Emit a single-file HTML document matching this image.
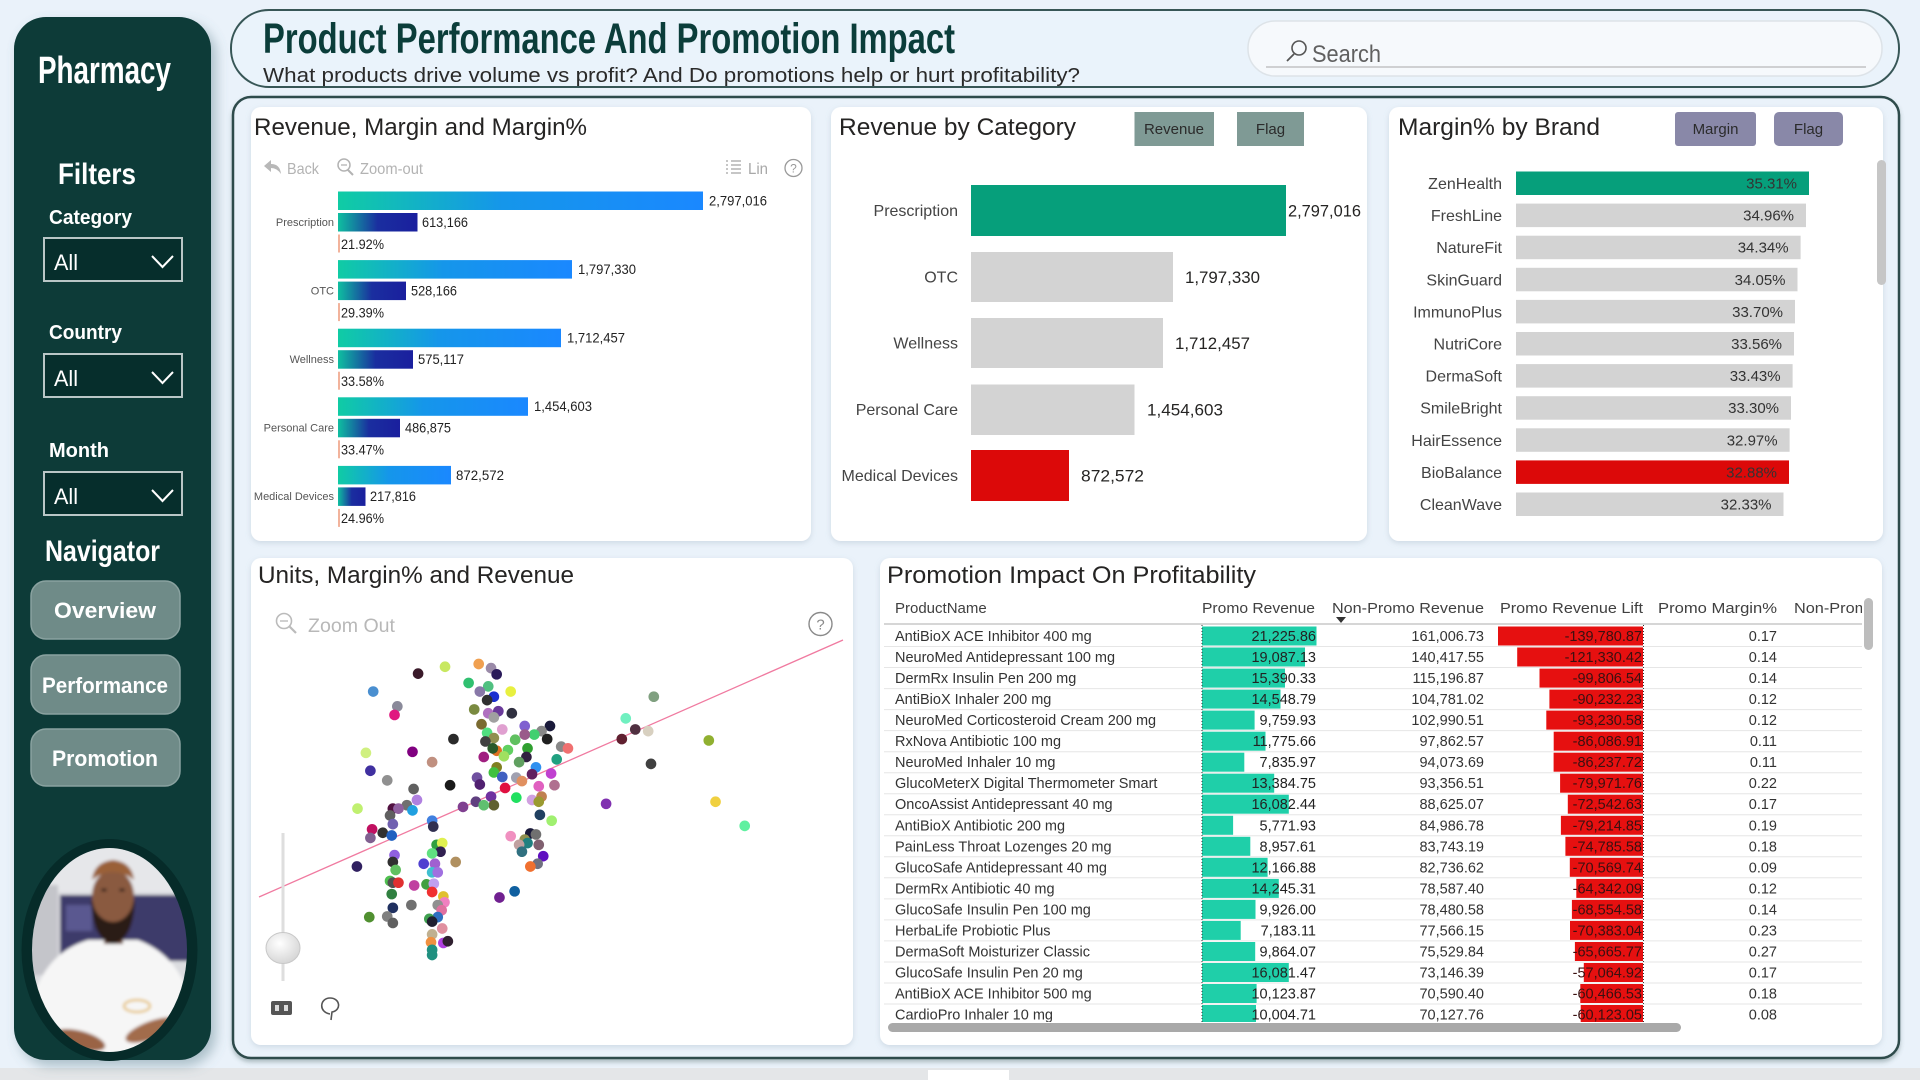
<!DOCTYPE html>
<html><head><meta charset="utf-8">
<style>
html,body{margin:0;padding:0;width:1920px;height:1080px;overflow:hidden;background:#eaf2fa;}
svg{display:block}
text{font-family:"Liberation Sans",sans-serif;}
.nar{font-family:"Liberation Sans Narrow","Liberation Sans",sans-serif;}
</style></head>
<body>
<svg width="1920" height="1080" viewBox="0 0 1920 1080" xmlns="http://www.w3.org/2000/svg">
<defs>
  <filter id="sh" x="-10%" y="-10%" width="120%" height="120%">
    <feDropShadow dx="0" dy="2" stdDeviation="3" flood-color="#8aa0b0" flood-opacity="0.3"/>
  </filter>
  <filter id="sbsh" x="-20%" y="-10%" width="140%" height="120%">
    <feDropShadow dx="5" dy="6" stdDeviation="6" flood-color="#5a7f8a" flood-opacity="0.45"/>
  </filter>
  <filter id="csh" x="-5%" y="-5%" width="110%" height="110%">
    <feDropShadow dx="0" dy="3" stdDeviation="2" flood-color="#3a5a5a" flood-opacity="0.35"/>
  </filter>
  <filter id="blur1"><feGaussianBlur stdDeviation="1.6"/></filter>
  <linearGradient id="gRev" x1="0" y1="0" x2="1" y2="0">
    <stop offset="0" stop-color="#10cca4"/>
    <stop offset="0.45" stop-color="#1596ea"/>
    <stop offset="1" stop-color="#1a88ff"/>
  </linearGradient>
  <linearGradient id="gMar" x1="0" y1="0" x2="1" y2="0">
    <stop offset="0" stop-color="#0fbfa0"/>
    <stop offset="0.5" stop-color="#1a2e9f"/>
    <stop offset="1" stop-color="#1a1f9e"/>
  </linearGradient>
  <radialGradient id="gKnob" cx="0.4" cy="0.35" r="0.7">
    <stop offset="0" stop-color="#ffffff"/>
    <stop offset="1" stop-color="#d4d4d4"/>
  </radialGradient>
  <clipPath id="photoClip"><ellipse cx="109.5" cy="950" rx="77.5" ry="102"/></clipPath>
  <clipPath id="tblClip"><rect x="884" y="595" width="978" height="427"/></clipPath>
</defs>

<!-- page background -->
<rect x="0" y="0" width="1920" height="1080" fill="#eaf2fa"/>
<rect x="0" y="1068" width="1920" height="12" fill="#e4e6e8"/>
<rect x="928" y="1070" width="81" height="10" fill="#ffffff"/>

<!-- SIDEBAR -->
<rect x="14" y="17" width="197" height="1043" rx="32" fill="#0b3a38" filter="url(#sbsh)"/>
<text class="nar" x="38" y="83" font-size="38" font-weight="bold" fill="#ffffff" textLength="133" lengthAdjust="spacingAndGlyphs">Pharmacy</text>
<text class="nar" x="58" y="184" font-size="30" font-weight="bold" fill="#ffffff" textLength="78" lengthAdjust="spacingAndGlyphs">Filters</text>

<text class="nar" x="49" y="224" font-size="20" font-weight="bold" fill="#ffffff" textLength="83" lengthAdjust="spacingAndGlyphs">Category</text>
<rect x="44" y="238" width="138" height="43" fill="#062e2c" stroke="#b9c6c6" stroke-width="2"/>
<text class="nar" x="54" y="270" font-size="22" fill="#ffffff" textLength="24" lengthAdjust="spacingAndGlyphs">All</text>
<polyline points="152,256 162.5,267 173,256" fill="none" stroke="#ffffff" stroke-width="2"/>

<text class="nar" x="49" y="339" font-size="20" font-weight="bold" fill="#ffffff" textLength="73" lengthAdjust="spacingAndGlyphs">Country</text>
<rect x="44" y="354" width="138" height="43" fill="#062e2c" stroke="#b9c6c6" stroke-width="2"/>
<text class="nar" x="54" y="386" font-size="22" fill="#ffffff" textLength="24" lengthAdjust="spacingAndGlyphs">All</text>
<polyline points="152,372 162.5,383 173,372" fill="none" stroke="#ffffff" stroke-width="2"/>

<text class="nar" x="49" y="457" font-size="20" font-weight="bold" fill="#ffffff" textLength="60" lengthAdjust="spacingAndGlyphs">Month</text>
<rect x="44" y="472" width="138" height="43" fill="#062e2c" stroke="#b9c6c6" stroke-width="2"/>
<text class="nar" x="54" y="504" font-size="22" fill="#ffffff" textLength="24" lengthAdjust="spacingAndGlyphs">All</text>
<polyline points="152,490 162.5,501 173,490" fill="none" stroke="#ffffff" stroke-width="2"/>

<text class="nar" x="45" y="561" font-size="30" font-weight="bold" fill="#ffffff" textLength="115" lengthAdjust="spacingAndGlyphs">Navigator</text>

<rect x="31" y="581" width="149" height="58" rx="15" fill="#6f8b88" stroke="#8aa2a0" stroke-width="1.5"/>
<text class="nar" x="54" y="618" font-size="22" font-weight="bold" fill="#ffffff" textLength="102" lengthAdjust="spacingAndGlyphs">Overview</text>
<rect x="31" y="655" width="149" height="59" rx="15" fill="#6f8b88" stroke="#8aa2a0" stroke-width="1.5"/>
<text class="nar" x="42" y="693" font-size="22" font-weight="bold" fill="#ffffff" textLength="126" lengthAdjust="spacingAndGlyphs">Performance</text>
<rect x="31" y="729" width="149" height="57" rx="15" fill="#6f8b88" stroke="#8aa2a0" stroke-width="1.5"/>
<text class="nar" x="52" y="766" font-size="22" font-weight="bold" fill="#ffffff" textLength="106" lengthAdjust="spacingAndGlyphs">Promotion</text>

<!-- photo -->
<ellipse cx="109.5" cy="950" rx="88" ry="111" fill="#062b29"/>
<g clip-path="url(#photoClip)">
  <g filter="url(#blur1)">
    <rect x="20" y="840" width="180" height="220" fill="#dcdde0"/>
    <rect x="20" y="840" width="180" height="52" fill="#e6e7ea"/>
    <rect x="60" y="895" width="132" height="66" fill="#3d3b6b"/>
    <rect x="66" y="905" width="26" height="26" fill="#5a5990"/>
    <rect x="28" y="885" width="30" height="90" fill="#c4c5ca"/>
    <path d="M25 1060 L34 995 Q48 952 88 940 L138 940 Q178 955 190 1000 L195 1060 Z" fill="#f6f6f6"/>
    <rect x="104" y="928" width="19" height="16" fill="#6a4030"/>
    <path d="M91 898 Q92 940 113 944 Q134 940 135 898 Q128 918 113 918 Q98 918 91 898 Z" fill="#2a1c16"/>
    <ellipse cx="113" cy="896" rx="21" ry="26" fill="#8a5a40"/>
    <path d="M92 905 Q95 935 113 938 Q131 935 134 905 Q128 922 113 922 Q98 922 92 905 Z" fill="#2b1d17"/>
    <path d="M92 880 Q94 862 113 860 Q132 862 134 880 Q124 872 113 872 Q102 872 92 880 Z" fill="#9a6038"/>
    <ellipse cx="104" cy="890" rx="3" ry="1.5" fill="#2a1c16"/>
    <ellipse cx="122" cy="890" rx="3" ry="1.5" fill="#2a1c16"/>
    <ellipse cx="152" cy="1030" rx="28" ry="9" fill="#a26c4c" transform="rotate(-20 152 1030)"/>
    <ellipse cx="80" cy="1040" rx="26" ry="9" fill="#9a6444" transform="rotate(15 80 1040)"/>
    <ellipse cx="137" cy="1006" rx="13" ry="6" fill="none" stroke="#e2b440" stroke-width="2"/>
  </g>
</g>

<!-- HEADER -->
<rect x="231" y="10" width="1668" height="77" rx="38" fill="#eaf3fb" stroke="#375656" stroke-width="2"/>
<text class="nar" x="263" y="53" font-size="43" font-weight="bold" fill="#0b3d3a" textLength="692" lengthAdjust="spacingAndGlyphs">Product Performance And Promotion Impact</text>
<text x="263" y="82" font-size="20" fill="#2a2a2a" textLength="817" lengthAdjust="spacingAndGlyphs">What products drive volume vs profit? And Do promotions help or hurt profitability?</text>
<rect x="1248" y="21" width="634" height="55" rx="27" fill="#f6f9fc" stroke="#dde3e8" stroke-width="1.5"/>
<line x1="1266" y1="67" x2="1866" y2="67" stroke="#a8a8a8" stroke-width="1"/>
<circle cx="1299" cy="48" r="7" fill="none" stroke="#555" stroke-width="1.6"/>
<line x1="1294" y1="54" x2="1287" y2="61" stroke="#555" stroke-width="1.8"/>
<text x="1312" y="62" font-size="24" fill="#606060" textLength="69" lengthAdjust="spacingAndGlyphs">Search</text>

<!-- MAIN CONTAINER -->
<rect x="233" y="97" width="1666" height="961" rx="18" fill="#eaf2fa" stroke="#2f4b4b" stroke-width="2.5" filter="url(#csh)"/>

<!-- PANELS -->
<rect x="251" y="107" width="560" height="434" rx="10" fill="#ffffff" filter="url(#sh)"/>
<rect x="831" y="107" width="536" height="434" rx="10" fill="#ffffff" filter="url(#sh)"/>
<rect x="1389" y="107" width="494" height="434" rx="10" fill="#ffffff" filter="url(#sh)"/>
<rect x="251" y="558" width="602" height="487" rx="10" fill="#ffffff" filter="url(#sh)"/>
<rect x="880" y="558" width="1002" height="487" rx="10" fill="#ffffff" filter="url(#sh)"/>

<!-- PANEL 1 -->
<text x="254" y="135" font-size="24" fill="#252423" textLength="333" lengthAdjust="spacingAndGlyphs">Revenue, Margin and Margin%</text>
<path d="M264 166 L271 160 L271 164 Q280 164 281 174 Q277 168 271 168 L271 172 Z" fill="#b8b8b8"/>
<text x="287" y="174" font-size="16" fill="#b3b3b3" textLength="32" lengthAdjust="spacingAndGlyphs">Back</text>
<circle cx="344" cy="165" r="6" fill="none" stroke="#b3b3b3" stroke-width="1.5"/>
<line x1="348" y1="170" x2="353" y2="175" stroke="#b3b3b3" stroke-width="2"/>
<line x1="341" y1="165" x2="347" y2="165" stroke="#b3b3b3" stroke-width="1.3"/>
<text x="360" y="174" font-size="16" fill="#b3b3b3" textLength="63" lengthAdjust="spacingAndGlyphs">Zoom-out</text>
<g stroke="#a8a8a8" stroke-width="1.3">
  <line x1="731" y1="161" x2="741" y2="161"/><line x1="731" y1="165" x2="741" y2="165"/>
  <line x1="731" y1="169" x2="741" y2="169"/><line x1="731" y1="173" x2="741" y2="173"/>
  <line x1="726" y1="161" x2="728" y2="161"/><line x1="726" y1="165" x2="728" y2="165"/>
  <line x1="726" y1="169" x2="728" y2="169"/><line x1="726" y1="173" x2="728" y2="173"/>
</g>
<text x="748" y="174" font-size="16" fill="#a8a8a8" textLength="20" lengthAdjust="spacingAndGlyphs">Lin</text>
<circle cx="793.5" cy="168" r="8.5" fill="none" stroke="#9a9a9a" stroke-width="1.3"/>
<text x="793.5" y="172.5" font-size="12" fill="#9a9a9a" text-anchor="middle">?</text>

<g font-size="13.5" fill="#222">
  <rect x="338" y="191.5" width="365" height="18.5" fill="url(#gRev)"/>
  <text x="709" y="205.5" textLength="58" lengthAdjust="spacingAndGlyphs">2,797,016</text>
  <rect x="338" y="213" width="79.5" height="18.5" fill="url(#gMar)"/>
  <text x="422" y="227" textLength="46" lengthAdjust="spacingAndGlyphs">613,166</text>
  <rect x="338" y="234.5" width="2" height="18" fill="#f2b39c"/>
  <text x="341" y="249" textLength="43" lengthAdjust="spacingAndGlyphs">21.92%</text>

  <rect x="338" y="260.1" width="234" height="18.5" fill="url(#gRev)"/>
  <text x="578" y="274" textLength="58" lengthAdjust="spacingAndGlyphs">1,797,330</text>
  <rect x="338" y="281.6" width="68" height="18.5" fill="url(#gMar)"/>
  <text x="411" y="295.5" textLength="46" lengthAdjust="spacingAndGlyphs">528,166</text>
  <rect x="338" y="303.1" width="2" height="18" fill="#f2b39c"/>
  <text x="341" y="317.5" textLength="43" lengthAdjust="spacingAndGlyphs">29.39%</text>

  <rect x="338" y="328.7" width="223" height="18.5" fill="url(#gRev)"/>
  <text x="567" y="342.5" textLength="58" lengthAdjust="spacingAndGlyphs">1,712,457</text>
  <rect x="338" y="350.2" width="75" height="18.5" fill="url(#gMar)"/>
  <text x="418" y="364" textLength="46" lengthAdjust="spacingAndGlyphs">575,117</text>
  <rect x="338" y="371.7" width="2" height="18" fill="#f2b39c"/>
  <text x="341" y="386" textLength="43" lengthAdjust="spacingAndGlyphs">33.58%</text>

  <rect x="338" y="397.3" width="190" height="18.5" fill="url(#gRev)"/>
  <text x="534" y="411" textLength="58" lengthAdjust="spacingAndGlyphs">1,454,603</text>
  <rect x="338" y="418.8" width="62" height="18.5" fill="url(#gMar)"/>
  <text x="405" y="432.5" textLength="46" lengthAdjust="spacingAndGlyphs">486,875</text>
  <rect x="338" y="440.3" width="2" height="18" fill="#f2b39c"/>
  <text x="341" y="454.5" textLength="43" lengthAdjust="spacingAndGlyphs">33.47%</text>

  <rect x="338" y="465.9" width="113" height="18.5" fill="url(#gRev)"/>
  <text x="456" y="480" textLength="48" lengthAdjust="spacingAndGlyphs">872,572</text>
  <rect x="338" y="487.4" width="27.5" height="18.5" fill="url(#gMar)"/>
  <text x="370" y="501" textLength="46" lengthAdjust="spacingAndGlyphs">217,816</text>
  <rect x="338" y="508.9" width="2" height="18" fill="#f2b39c"/>
  <text x="341" y="523" textLength="43" lengthAdjust="spacingAndGlyphs">24.96%</text>
</g>
<g font-size="11" fill="#555" text-anchor="end">
  <text x="334" y="226">Prescription</text>
  <text x="334" y="294.5">OTC</text>
  <text x="334" y="363">Wellness</text>
  <text x="334" y="431.5">Personal Care</text>
  <text x="334" y="500">Medical Devices</text>
</g>

<!-- PANEL 2 -->
<text x="839" y="135" font-size="24" fill="#252423" textLength="237" lengthAdjust="spacingAndGlyphs">Revenue by Category</text>
<rect x="1134.5" y="112" width="79.5" height="34" fill="#7f9a95"/>
<text x="1174" y="134" font-size="15" fill="#2b2b2b" text-anchor="middle">Revenue</text>
<rect x="1237" y="112" width="67" height="34" fill="#7f9a95"/>
<text x="1270.5" y="134" font-size="15" fill="#2b2b2b" text-anchor="middle">Flag</text>

<rect x="971" y="185" width="315" height="51" fill="#069f7b"/>
<rect x="971" y="252" width="202" height="50" fill="#d3d3d3"/>
<rect x="971" y="318" width="192" height="50" fill="#d3d3d3"/>
<rect x="971" y="384.5" width="163.5" height="50.5" fill="#d3d3d3"/>
<rect x="971" y="450" width="98" height="51" fill="#dc0909"/>
<g font-size="17" fill="#252423">
  <text x="1288" y="216.5" textLength="73" lengthAdjust="spacingAndGlyphs">2,797,016</text>
  <text x="1185" y="283" textLength="75" lengthAdjust="spacingAndGlyphs">1,797,330</text>
  <text x="1175" y="349" textLength="75" lengthAdjust="spacingAndGlyphs">1,712,457</text>
  <text x="1147" y="415.5" textLength="76" lengthAdjust="spacingAndGlyphs">1,454,603</text>
  <text x="1081" y="481.5" textLength="63" lengthAdjust="spacingAndGlyphs">872,572</text>
</g>
<g font-size="16" fill="#444" text-anchor="end">
  <text x="958" y="216">Prescription</text>
  <text x="958" y="282.5">OTC</text>
  <text x="958" y="348.5">Wellness</text>
  <text x="958" y="415">Personal Care</text>
  <text x="958" y="481">Medical Devices</text>
</g>

<!-- PANEL 3 -->
<text x="1398" y="135" font-size="24" fill="#252423" textLength="202" lengthAdjust="spacingAndGlyphs">Margin% by Brand</text>
<rect x="1675" y="112" width="81" height="34" rx="3" fill="#8988a8"/>
<text x="1715.5" y="134" font-size="15" fill="#2b2b2b" text-anchor="middle">Margin</text>
<rect x="1774" y="112" width="69" height="34" rx="5" fill="#8988a8"/>
<text x="1808.5" y="134" font-size="15" fill="#2b2b2b" text-anchor="middle">Flag</text>

<g>
  <rect x="1516" y="171.5" width="293" height="23.5" fill="#069f7b"/>
  <rect x="1516" y="203.6" width="290" height="23.5" fill="#d3d3d3"/>
  <rect x="1516" y="235.7" width="284.6" height="23.5" fill="#d3d3d3"/>
  <rect x="1516" y="267.8" width="281.5" height="23.5" fill="#d3d3d3"/>
  <rect x="1516" y="299.9" width="279" height="23.5" fill="#d3d3d3"/>
  <rect x="1516" y="332" width="278" height="23.5" fill="#d3d3d3"/>
  <rect x="1516" y="364.1" width="276.6" height="23.5" fill="#d3d3d3"/>
  <rect x="1516" y="396.2" width="275" height="23.5" fill="#d3d3d3"/>
  <rect x="1516" y="428.3" width="273.6" height="23.5" fill="#d3d3d3"/>
  <rect x="1516" y="460.4" width="273" height="23.5" fill="#dc0909"/>
  <rect x="1516" y="492.5" width="267.5" height="23.5" fill="#d3d3d3"/>
</g>
<g font-size="15" fill="#333" text-anchor="end">
  <text x="1797" y="188.5">35.31%</text>
  <text x="1794" y="220.6">34.96%</text>
  <text x="1788.6" y="252.7">34.34%</text>
  <text x="1785.5" y="284.8">34.05%</text>
  <text x="1783" y="316.9">33.70%</text>
  <text x="1782" y="349">33.56%</text>
  <text x="1780.6" y="381.1">33.43%</text>
  <text x="1779" y="413.2">33.30%</text>
  <text x="1777.6" y="445.3">32.97%</text>
  <text x="1777" y="477.4">32.88%</text>
  <text x="1771.5" y="509.5">32.33%</text>
</g>
<g font-size="16" fill="#444" text-anchor="end">
  <text x="1502" y="189">ZenHealth</text>
  <text x="1502" y="221.1">FreshLine</text>
  <text x="1502" y="253.2">NatureFit</text>
  <text x="1502" y="285.3">SkinGuard</text>
  <text x="1502" y="317.4">ImmunoPlus</text>
  <text x="1502" y="349.5">NutriCore</text>
  <text x="1502" y="381.6">DermaSoft</text>
  <text x="1502" y="413.7">SmileBright</text>
  <text x="1502" y="445.8">HairEssence</text>
  <text x="1502" y="477.9">BioBalance</text>
  <text x="1502" y="510">CleanWave</text>
</g>
<rect x="1877" y="160" width="9" height="125" rx="4.5" fill="#c6c6c6"/>

<!-- PANEL 4 -->
<text x="258" y="583" font-size="24" fill="#252423" textLength="316" lengthAdjust="spacingAndGlyphs">Units, Margin% and Revenue</text>
<circle cx="284" cy="621" r="7.5" fill="none" stroke="#bbbbbb" stroke-width="1.6"/>
<line x1="289.5" y1="626.5" x2="296" y2="633" stroke="#bbbbbb" stroke-width="2.2"/>
<line x1="280" y1="621" x2="288" y2="621" stroke="#bbbbbb" stroke-width="1.4"/>
<text x="308" y="632" font-size="19" fill="#b8b8b8" textLength="87" lengthAdjust="spacingAndGlyphs">Zoom Out</text>
<circle cx="820.5" cy="624" r="11.5" fill="none" stroke="#8a8a8a" stroke-width="1.4"/>
<text x="820.5" y="629.5" font-size="15" fill="#8a8a8a" text-anchor="middle">?</text>

<line x1="259" y1="897" x2="843" y2="640" stroke="#f07aa0" stroke-width="1.3"/>

<line x1="283" y1="833" x2="283" y2="981" stroke="#dedede" stroke-width="3"/>
<ellipse cx="283" cy="948" rx="17" ry="15.5" fill="url(#gKnob)" stroke="#c8c8c8" stroke-width="1"/>

<rect x="271" y="1001" width="21" height="14" rx="2" fill="#555"/>
<rect x="275" y="1005" width="4" height="6" fill="#ddd"/>
<rect x="284" y="1005" width="4" height="6" fill="#ddd"/>
<path d="M330 1014 C318 1012 320 998 330 998 C340 998 342 1010 332 1012 L331 1020" fill="none" stroke="#555" stroke-width="1.6"/>

<g transform="translate(0,540) scale(0.5612,0.3444)">
<ellipse cx="665" cy="440" rx="9.5" ry="15.5" fill="#4a8fd0"/>
<ellipse cx="745" cy="388" rx="9.5" ry="15.5" fill="#3a1a2a"/>
<ellipse cx="793" cy="368" rx="9.5" ry="15.5" fill="#c8e860"/>
<ellipse cx="853" cy="360" rx="9.5" ry="15.5" fill="#f0a050"/>
<ellipse cx="875" cy="372" rx="9.5" ry="15.5" fill="#9a8aa8"/>
<ellipse cx="885" cy="390" rx="9.5" ry="15.5" fill="#2a1a5a"/>
<ellipse cx="835" cy="415" rx="9.5" ry="15.5" fill="#30c070"/>
<ellipse cx="870" cy="425" rx="9.5" ry="15.5" fill="#50c080"/>
<ellipse cx="910" cy="440" rx="9.5" ry="15.5" fill="#e8f040"/>
<ellipse cx="855" cy="440" rx="9.5" ry="15.5" fill="#8878a8"/>
<ellipse cx="880" cy="455" rx="9.5" ry="15.5" fill="#1a30d0"/>
<ellipse cx="868" cy="465" rx="9.5" ry="15.5" fill="#303030"/>
<ellipse cx="708" cy="483" rx="9.5" ry="15.5" fill="#8a8a9a"/>
<ellipse cx="703" cy="508" rx="9.5" ry="15.5" fill="#e01880"/>
<ellipse cx="845" cy="492" rx="9.5" ry="15.5" fill="#7a8a40"/>
<ellipse cx="870" cy="503" rx="9.5" ry="15.5" fill="#b070c0"/>
<ellipse cx="888" cy="497" rx="9.5" ry="15.5" fill="#6a3a9a"/>
<ellipse cx="912" cy="503" rx="9.5" ry="15.5" fill="#303040"/>
<ellipse cx="880" cy="515" rx="9.5" ry="15.5" fill="#a0a0a0"/>
<ellipse cx="858" cy="535" rx="9.5" ry="15.5" fill="#7a6a30"/>
<ellipse cx="935" cy="540" rx="9.5" ry="15.5" fill="#8060d0"/>
<ellipse cx="895" cy="550" rx="9.5" ry="15.5" fill="#e0a0d0"/>
<ellipse cx="980" cy="540" rx="9.5" ry="15.5" fill="#1a1a3a"/>
<ellipse cx="965" cy="555" rx="9.5" ry="15.5" fill="#888888"/>
<ellipse cx="952" cy="565" rx="9.5" ry="15.5" fill="#40d070"/>
<ellipse cx="935" cy="565" rx="9.5" ry="15.5" fill="#9a5a8a"/>
<ellipse cx="975" cy="578" rx="9.5" ry="15.5" fill="#202020"/>
<ellipse cx="868" cy="560" rx="9.5" ry="15.5" fill="#50e080"/>
<ellipse cx="880" cy="575" rx="9.5" ry="15.5" fill="#909050"/>
<ellipse cx="865" cy="585" rx="9.5" ry="15.5" fill="#404040"/>
<ellipse cx="808" cy="578" rx="9.5" ry="15.5" fill="#2a2a2a"/>
<ellipse cx="918" cy="580" rx="9.5" ry="15.5" fill="#60c060"/>
<ellipse cx="940" cy="605" rx="9.5" ry="15.5" fill="#30a030"/>
<ellipse cx="1000" cy="600" rx="9.5" ry="15.5" fill="#888888"/>
<ellipse cx="1012" cy="605" rx="9.5" ry="15.5" fill="#f07070"/>
<ellipse cx="885" cy="612" rx="9.5" ry="15.5" fill="#e07020"/>
<ellipse cx="905" cy="610" rx="9.5" ry="15.5" fill="#60d060"/>
<ellipse cx="878" cy="605" rx="9.5" ry="15.5" fill="#2a5a2a"/>
<ellipse cx="862" cy="630" rx="9.5" ry="15.5" fill="#a02080"/>
<ellipse cx="898" cy="628" rx="9.5" ry="15.5" fill="#a0e060"/>
<ellipse cx="938" cy="630" rx="9.5" ry="15.5" fill="#302040"/>
<ellipse cx="992" cy="637" rx="9.5" ry="15.5" fill="#20a080"/>
<ellipse cx="735" cy="615" rx="9.5" ry="15.5" fill="#800080"/>
<ellipse cx="652" cy="618" rx="9.5" ry="15.5" fill="#d0f080"/>
<ellipse cx="770" cy="645" rx="9.5" ry="15.5" fill="#c09080"/>
<ellipse cx="925" cy="645" rx="9.5" ry="15.5" fill="#60a060"/>
<ellipse cx="885" cy="660" rx="9.5" ry="15.5" fill="#808020"/>
<ellipse cx="955" cy="660" rx="9.5" ry="15.5" fill="#3090f0"/>
<ellipse cx="660" cy="670" rx="9.5" ry="15.5" fill="#4030a0"/>
<ellipse cx="880" cy="675" rx="9.5" ry="15.5" fill="#40c040"/>
<ellipse cx="948" cy="680" rx="9.5" ry="15.5" fill="#602060"/>
<ellipse cx="982" cy="678" rx="9.5" ry="15.5" fill="#c040d0"/>
<ellipse cx="895" cy="688" rx="9.5" ry="15.5" fill="#4060c0"/>
<ellipse cx="920" cy="690" rx="9.5" ry="15.5" fill="#a0a0b0"/>
<ellipse cx="930" cy="700" rx="9.5" ry="15.5" fill="#e09060"/>
<ellipse cx="850" cy="690" rx="9.5" ry="15.5" fill="#7050a0"/>
<ellipse cx="690" cy="698" rx="9.5" ry="15.5" fill="#909090"/>
<ellipse cx="855" cy="710" rx="9.5" ry="15.5" fill="#502070"/>
<ellipse cx="960" cy="715" rx="9.5" ry="15.5" fill="#e060c0"/>
<ellipse cx="988" cy="712" rx="9.5" ry="15.5" fill="#b07090"/>
<ellipse cx="802" cy="712" rx="9.5" ry="15.5" fill="#1a1a1a"/>
<ellipse cx="900" cy="720" rx="9.5" ry="15.5" fill="#e01040"/>
<ellipse cx="737" cy="723" rx="9.5" ry="15.5" fill="#606060"/>
<ellipse cx="920" cy="748" rx="9.5" ry="15.5" fill="#20e060"/>
<ellipse cx="965" cy="745" rx="9.5" ry="15.5" fill="#c08050"/>
<ellipse cx="875" cy="745" rx="9.5" ry="15.5" fill="#7030a0"/>
<ellipse cx="848" cy="760" rx="9.5" ry="15.5" fill="#604080"/>
<ellipse cx="948" cy="755" rx="9.5" ry="15.5" fill="#d0a0e0"/>
<ellipse cx="960" cy="760" rx="9.5" ry="15.5" fill="#9a9a30"/>
<ellipse cx="880" cy="770" rx="9.5" ry="15.5" fill="#606030"/>
<ellipse cx="825" cy="775" rx="9.5" ry="15.5" fill="#804090"/>
<ellipse cx="862" cy="770" rx="9.5" ry="15.5" fill="#60c070"/>
<ellipse cx="743" cy="755" rx="9.5" ry="15.5" fill="#b080e0"/>
<ellipse cx="725" cy="770" rx="9.5" ry="15.5" fill="#707070"/>
<ellipse cx="700" cy="780" rx="9.5" ry="15.5" fill="#501040"/>
<ellipse cx="710" cy="780" rx="9.5" ry="15.5" fill="#9060a0"/>
<ellipse cx="637" cy="780" rx="9.5" ry="15.5" fill="#c0f070"/>
<ellipse cx="735" cy="785" rx="9.5" ry="15.5" fill="#20a0e0"/>
<ellipse cx="695" cy="800" rx="9.5" ry="15.5" fill="#606060"/>
<ellipse cx="700" cy="825" rx="9.5" ry="15.5" fill="#7060b0"/>
<ellipse cx="770" cy="815" rx="9.5" ry="15.5" fill="#4080e0"/>
<ellipse cx="772" cy="832" rx="9.5" ry="15.5" fill="#303050"/>
<ellipse cx="962" cy="798" rx="9.5" ry="15.5" fill="#204060"/>
<ellipse cx="983" cy="815" rx="9.5" ry="15.5" fill="#a0f070"/>
<ellipse cx="663" cy="840" rx="9.5" ry="15.5" fill="#c01060"/>
<ellipse cx="682" cy="850" rx="9.5" ry="15.5" fill="#303030"/>
<ellipse cx="698" cy="858" rx="9.5" ry="15.5" fill="#2060c0"/>
<ellipse cx="660" cy="865" rx="9.5" ry="15.5" fill="#806090"/>
<ellipse cx="910" cy="860" rx="9.5" ry="15.5" fill="#f090c0"/>
<ellipse cx="945" cy="852" rx="9.5" ry="15.5" fill="#1a1a3a"/>
<ellipse cx="955" cy="855" rx="9.5" ry="15.5" fill="#707070"/>
<ellipse cx="935" cy="870" rx="9.5" ry="15.5" fill="#909050"/>
<ellipse cx="940" cy="880" rx="9.5" ry="15.5" fill="#208080"/>
<ellipse cx="960" cy="885" rx="9.5" ry="15.5" fill="#806070"/>
<ellipse cx="925" cy="885" rx="9.5" ry="15.5" fill="#c0a0a0"/>
<ellipse cx="930" cy="905" rx="9.5" ry="15.5" fill="#307080"/>
<ellipse cx="968" cy="918" rx="9.5" ry="15.5" fill="#6010c0"/>
<ellipse cx="958" cy="940" rx="9.5" ry="15.5" fill="#707080"/>
<ellipse cx="945" cy="948" rx="9.5" ry="15.5" fill="#f07030"/>
<ellipse cx="778" cy="885" rx="9.5" ry="15.5" fill="#30a040"/>
<ellipse cx="788" cy="880" rx="9.5" ry="15.5" fill="#e0f050"/>
<ellipse cx="785" cy="905" rx="9.5" ry="15.5" fill="#302050"/>
<ellipse cx="770" cy="910" rx="9.5" ry="15.5" fill="#60e080"/>
<ellipse cx="703" cy="915" rx="9.5" ry="15.5" fill="#9060e0"/>
<ellipse cx="700" cy="935" rx="9.5" ry="15.5" fill="#303030"/>
<ellipse cx="812" cy="935" rx="9.5" ry="15.5" fill="#b09060"/>
<ellipse cx="755" cy="940" rx="9.5" ry="15.5" fill="#5040d0"/>
<ellipse cx="775" cy="940" rx="9.5" ry="15.5" fill="#a060d0"/>
<ellipse cx="636" cy="948" rx="9.5" ry="15.5" fill="#302060"/>
<ellipse cx="705" cy="958" rx="9.5" ry="15.5" fill="#60c060"/>
<ellipse cx="770" cy="965" rx="9.5" ry="15.5" fill="#40c0d0"/>
<ellipse cx="780" cy="965" rx="9.5" ry="15.5" fill="#a070e0"/>
<ellipse cx="695" cy="990" rx="9.5" ry="15.5" fill="#50c050"/>
<ellipse cx="700" cy="995" rx="9.5" ry="15.5" fill="#505050"/>
<ellipse cx="710" cy="995" rx="9.5" ry="15.5" fill="#e03030"/>
<ellipse cx="738" cy="1003" rx="9.5" ry="15.5" fill="#c040a0"/>
<ellipse cx="760" cy="1000" rx="9.5" ry="15.5" fill="#40a040"/>
<ellipse cx="773" cy="998" rx="9.5" ry="15.5" fill="#c0a0f0"/>
<ellipse cx="770" cy="1022" rx="9.5" ry="15.5" fill="#f03030"/>
<ellipse cx="790" cy="1035" rx="9.5" ry="15.5" fill="#e0c030"/>
<ellipse cx="698" cy="1028" rx="9.5" ry="15.5" fill="#308040"/>
<ellipse cx="792" cy="1052" rx="9.5" ry="15.5" fill="#f080c0"/>
<ellipse cx="890" cy="1038" rx="9.5" ry="15.5" fill="#702090"/>
<ellipse cx="917" cy="1020" rx="9.5" ry="15.5" fill="#1060a0"/>
<ellipse cx="700" cy="1068" rx="9.5" ry="15.5" fill="#203060"/>
<ellipse cx="733" cy="1060" rx="9.5" ry="15.5" fill="#707070"/>
<ellipse cx="780" cy="1060" rx="9.5" ry="15.5" fill="#909090"/>
<ellipse cx="787" cy="1075" rx="9.5" ry="15.5" fill="#e070a0"/>
<ellipse cx="658" cy="1095" rx="9.5" ry="15.5" fill="#509030"/>
<ellipse cx="690" cy="1093" rx="9.5" ry="15.5" fill="#808080"/>
<ellipse cx="700" cy="1112" rx="9.5" ry="15.5" fill="#606060"/>
<ellipse cx="780" cy="1095" rx="9.5" ry="15.5" fill="#3070c0"/>
<ellipse cx="765" cy="1100" rx="9.5" ry="15.5" fill="#40a050"/>
<ellipse cx="770" cy="1108" rx="9.5" ry="15.5" fill="#202030"/>
<ellipse cx="788" cy="1128" rx="9.5" ry="15.5" fill="#e090a0"/>
<ellipse cx="770" cy="1145" rx="9.5" ry="15.5" fill="#c0b090"/>
<ellipse cx="768" cy="1168" rx="9.5" ry="15.5" fill="#f09040"/>
<ellipse cx="790" cy="1170" rx="9.5" ry="15.5" fill="#b040e0"/>
<ellipse cx="798" cy="1165" rx="9.5" ry="15.5" fill="#302030"/>
<ellipse cx="770" cy="1190" rx="9.5" ry="15.5" fill="#209080"/>
<ellipse cx="770" cy="1205" rx="9.5" ry="15.5" fill="#209080"/>
<ellipse cx="1115" cy="518" rx="9.5" ry="15.5" fill="#70f0c0"/>
<ellipse cx="1132" cy="550" rx="9.5" ry="15.5" fill="#503040"/>
<ellipse cx="1155" cy="555" rx="9.5" ry="15.5" fill="#d8d0c0"/>
<ellipse cx="1108" cy="578" rx="9.5" ry="15.5" fill="#602030"/>
<ellipse cx="1165" cy="455" rx="9.5" ry="15.5" fill="#80a080"/>
<ellipse cx="1263" cy="582" rx="9.5" ry="15.5" fill="#90b030"/>
<ellipse cx="1160" cy="650" rx="9.5" ry="15.5" fill="#404040"/>
<ellipse cx="1080" cy="766" rx="9.5" ry="15.5" fill="#8030b0"/>
<ellipse cx="1275" cy="760" rx="9.5" ry="15.5" fill="#f0d040"/>
<ellipse cx="1327" cy="830" rx="9.5" ry="15.5" fill="#60f0a0"/>
</g>

<!-- PANEL 5 -->
<text x="887" y="583" font-size="24" fill="#252423" textLength="369" lengthAdjust="spacingAndGlyphs">Promotion Impact On Profitability</text>
<g clip-path="url(#tblClip)">
  <g font-size="15" fill="#404040">
    <text x="895" y="613">ProductName</text>
    <text x="1202" y="613" textLength="113" lengthAdjust="spacingAndGlyphs">Promo Revenue</text>
    <text x="1332" y="613" textLength="152" lengthAdjust="spacingAndGlyphs">Non-Promo Revenue</text>
    <text x="1500" y="613" textLength="143" lengthAdjust="spacingAndGlyphs">Promo Revenue Lift</text>
    <text x="1658" y="613" textLength="119" lengthAdjust="spacingAndGlyphs">Promo Margin%</text>
    <text x="1794" y="613" textLength="152" lengthAdjust="spacingAndGlyphs">Non-Promo Margin%</text>
  </g>
  <path d="M1336 617 L1346 617 L1341 623 Z" fill="#333"/>
  <line x1="884" y1="624" x2="1862" y2="624" stroke="#d6d6d6" stroke-width="2"/>

  <g stroke="#e6e6e6" stroke-width="1">
    <line x1="884" y1="646.5" x2="1862" y2="646.5"/>
    <line x1="884" y1="667.5" x2="1862" y2="667.5"/>
    <line x1="884" y1="688.6" x2="1862" y2="688.6"/>
    <line x1="884" y1="709.6" x2="1862" y2="709.6"/>
    <line x1="884" y1="730.6" x2="1862" y2="730.6"/>
    <line x1="884" y1="751.7" x2="1862" y2="751.7"/>
    <line x1="884" y1="772.7" x2="1862" y2="772.7"/>
    <line x1="884" y1="793.7" x2="1862" y2="793.7"/>
    <line x1="884" y1="814.7" x2="1862" y2="814.7"/>
    <line x1="884" y1="835.8" x2="1862" y2="835.8"/>
    <line x1="884" y1="856.8" x2="1862" y2="856.8"/>
    <line x1="884" y1="877.8" x2="1862" y2="877.8"/>
    <line x1="884" y1="898.9" x2="1862" y2="898.9"/>
    <line x1="884" y1="919.9" x2="1862" y2="919.9"/>
    <line x1="884" y1="940.9" x2="1862" y2="940.9"/>
    <line x1="884" y1="962" x2="1862" y2="962"/>
    <line x1="884" y1="983" x2="1862" y2="983"/>
    <line x1="884" y1="1004" x2="1862" y2="1004"/>
  </g>

  <g fill="#1fcfa9">
    <rect x="1202" y="626.5" width="114.5" height="19"/>
    <rect x="1202" y="647.5" width="103" height="19"/>
    <rect x="1202" y="668.6" width="83" height="19"/>
    <rect x="1202" y="689.6" width="78.5" height="19"/>
    <rect x="1202" y="710.6" width="52.6" height="19"/>
    <rect x="1202" y="731.7" width="63.5" height="19"/>
    <rect x="1202" y="752.7" width="42.3" height="19"/>
    <rect x="1202" y="773.7" width="72.2" height="19"/>
    <rect x="1202" y="794.7" width="86.8" height="19"/>
    <rect x="1202" y="815.8" width="31.1" height="19"/>
    <rect x="1202" y="836.8" width="48.3" height="19"/>
    <rect x="1202" y="857.8" width="65.6" height="19"/>
    <rect x="1202" y="878.9" width="76.8" height="19"/>
    <rect x="1202" y="899.9" width="53.5" height="19"/>
    <rect x="1202" y="920.9" width="38.7" height="19"/>
    <rect x="1202" y="942" width="53.2" height="19"/>
    <rect x="1202" y="963" width="86.8" height="19"/>
    <rect x="1202" y="984" width="54.6" height="19"/>
    <rect x="1202" y="1005" width="54" height="19"/>
  </g>
  <g fill="#e61010">
    <rect x="1498" y="626.5" width="145" height="19"/>
    <rect x="1517.2" y="647.5" width="125.8" height="19"/>
    <rect x="1539.5" y="668.6" width="103.5" height="19"/>
    <rect x="1549.4" y="689.6" width="93.6" height="19"/>
    <rect x="1546.3" y="710.6" width="96.7" height="19"/>
    <rect x="1553.7" y="731.7" width="89.3" height="19"/>
    <rect x="1553.6" y="752.7" width="89.4" height="19"/>
    <rect x="1560.1" y="773.7" width="82.9" height="19"/>
    <rect x="1567.8" y="794.7" width="75.2" height="19"/>
    <rect x="1560.9" y="815.8" width="82.1" height="19"/>
    <rect x="1565.4" y="836.8" width="77.6" height="19"/>
    <rect x="1569.8" y="857.8" width="73.2" height="19"/>
    <rect x="1576.3" y="878.9" width="66.7" height="19"/>
    <rect x="1571.9" y="899.9" width="71.1" height="19"/>
    <rect x="1570" y="920.9" width="73" height="19"/>
    <rect x="1574.9" y="942" width="68.1" height="19"/>
    <rect x="1583.8" y="963" width="59.2" height="19"/>
    <rect x="1580.3" y="984" width="62.7" height="19"/>
    <rect x="1580.7" y="1005" width="62.3" height="19"/>
  </g>
  <line x1="1202" y1="625" x2="1202" y2="1022" stroke="#333" stroke-width="1" stroke-dasharray="1,2"/>
  <line x1="1643.5" y1="625" x2="1643.5" y2="1022" stroke="#333" stroke-width="1" stroke-dasharray="1,2"/>

  <g font-size="14.5" fill="#333">
    <text x="895" y="641">AntiBioX ACE Inhibitor 400 mg</text>
    <text x="895" y="662">NeuroMed Antidepressant 100 mg</text>
    <text x="895" y="683.1">DermRx Insulin Pen 200 mg</text>
    <text x="895" y="704.1">AntiBioX Inhaler 200 mg</text>
    <text x="895" y="725.1">NeuroMed Corticosteroid Cream 200 mg</text>
    <text x="895" y="746.2">RxNova Antibiotic 100 mg</text>
    <text x="895" y="767.2">NeuroMed Inhaler 10 mg</text>
    <text x="895" y="788.2">GlucoMeterX Digital Thermometer Smart</text>
    <text x="895" y="809.2">OncoAssist Antidepressant 40 mg</text>
    <text x="895" y="830.3">AntiBioX Antibiotic 200 mg</text>
    <text x="895" y="851.3">PainLess Throat Lozenges 20 mg</text>
    <text x="895" y="872.3">GlucoSafe Antidepressant 40 mg</text>
    <text x="895" y="893.4">DermRx Antibiotic 40 mg</text>
    <text x="895" y="914.4">GlucoSafe Insulin Pen 100 mg</text>
    <text x="895" y="935.4">HerbaLife Probiotic Plus</text>
    <text x="895" y="956.5">DermaSoft Moisturizer Classic</text>
    <text x="895" y="977.5">GlucoSafe Insulin Pen 20 mg</text>
    <text x="895" y="998.5">AntiBioX ACE Inhibitor 500 mg</text>
    <text x="895" y="1019.5">CardioPro Inhaler 10 mg</text>
  </g>
  <g font-size="14.5" fill="#222" text-anchor="end">
    <text x="1316" y="641">21,225.86</text>
    <text x="1316" y="662">19,087.13</text>
    <text x="1316" y="683.1">15,390.33</text>
    <text x="1316" y="704.1">14,548.79</text>
    <text x="1316" y="725.1">9,759.93</text>
    <text x="1316" y="746.2">11,775.66</text>
    <text x="1316" y="767.2">7,835.97</text>
    <text x="1316" y="788.2">13,384.75</text>
    <text x="1316" y="809.2">16,082.44</text>
    <text x="1316" y="830.3">5,771.93</text>
    <text x="1316" y="851.3">8,957.61</text>
    <text x="1316" y="872.3">12,166.88</text>
    <text x="1316" y="893.4">14,245.31</text>
    <text x="1316" y="914.4">9,926.00</text>
    <text x="1316" y="935.4">7,183.11</text>
    <text x="1316" y="956.5">9,864.07</text>
    <text x="1316" y="977.5">16,081.47</text>
    <text x="1316" y="998.5">10,123.87</text>
    <text x="1316" y="1019.5">10,004.71</text>
  </g>
  <g font-size="14.5" fill="#333" text-anchor="end">
    <text x="1484" y="641">161,006.73</text>
    <text x="1484" y="662">140,417.55</text>
    <text x="1484" y="683.1">115,196.87</text>
    <text x="1484" y="704.1">104,781.02</text>
    <text x="1484" y="725.1">102,990.51</text>
    <text x="1484" y="746.2">97,862.57</text>
    <text x="1484" y="767.2">94,073.69</text>
    <text x="1484" y="788.2">93,356.51</text>
    <text x="1484" y="809.2">88,625.07</text>
    <text x="1484" y="830.3">84,986.78</text>
    <text x="1484" y="851.3">83,743.19</text>
    <text x="1484" y="872.3">82,736.62</text>
    <text x="1484" y="893.4">78,587.40</text>
    <text x="1484" y="914.4">78,480.58</text>
    <text x="1484" y="935.4">77,566.15</text>
    <text x="1484" y="956.5">75,529.84</text>
    <text x="1484" y="977.5">73,146.39</text>
    <text x="1484" y="998.5">70,590.40</text>
    <text x="1484" y="1019.5">70,127.76</text>
  </g>
  <g font-size="14.5" fill="#3a1010" text-anchor="end">
    <text x="1642" y="641">-139,780.87</text>
    <text x="1642" y="662">-121,330.42</text>
    <text x="1642" y="683.1">-99,806.54</text>
    <text x="1642" y="704.1">-90,232.23</text>
    <text x="1642" y="725.1">-93,230.58</text>
    <text x="1642" y="746.2">-86,086.91</text>
    <text x="1642" y="767.2">-86,237.72</text>
    <text x="1642" y="788.2">-79,971.76</text>
    <text x="1642" y="809.2">-72,542.63</text>
    <text x="1642" y="830.3">-79,214.85</text>
    <text x="1642" y="851.3">-74,785.58</text>
    <text x="1642" y="872.3">-70,569.74</text>
    <text x="1642" y="893.4">-64,342.09</text>
    <text x="1642" y="914.4">-68,554.58</text>
    <text x="1642" y="935.4">-70,383.04</text>
    <text x="1642" y="956.5">-65,665.77</text>
    <text x="1642" y="977.5">-57,064.92</text>
    <text x="1642" y="998.5">-60,466.53</text>
    <text x="1642" y="1019.5">-60,123.05</text>
  </g>
  <g font-size="14.5" fill="#333" text-anchor="end">
    <text x="1777" y="641">0.17</text>
    <text x="1777" y="662">0.14</text>
    <text x="1777" y="683.1">0.14</text>
    <text x="1777" y="704.1">0.12</text>
    <text x="1777" y="725.1">0.12</text>
    <text x="1777" y="746.2">0.11</text>
    <text x="1777" y="767.2">0.11</text>
    <text x="1777" y="788.2">0.22</text>
    <text x="1777" y="809.2">0.17</text>
    <text x="1777" y="830.3">0.19</text>
    <text x="1777" y="851.3">0.18</text>
    <text x="1777" y="872.3">0.09</text>
    <text x="1777" y="893.4">0.12</text>
    <text x="1777" y="914.4">0.14</text>
    <text x="1777" y="935.4">0.23</text>
    <text x="1777" y="956.5">0.27</text>
    <text x="1777" y="977.5">0.17</text>
    <text x="1777" y="998.5">0.18</text>
    <text x="1777" y="1019.5">0.08</text>
  </g>
</g>
<rect x="888" y="1023" width="793" height="9" rx="4.5" fill="#a9a9a9"/>
<rect x="1864" y="598" width="9" height="52" rx="4.5" fill="#bdbdbd"/>

</svg>
</body></html>
